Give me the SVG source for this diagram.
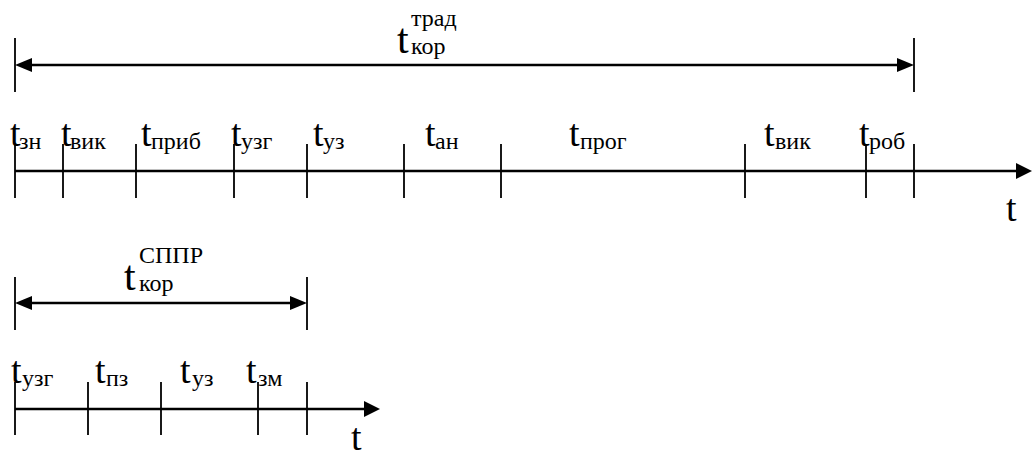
<svg xmlns="http://www.w3.org/2000/svg" width="1032" height="459" viewBox="0 0 1032 459">
  <style>
    .ln { stroke: #000; stroke-width: 2.6; fill: none; }
    .tk { stroke: #000; stroke-width: 1.8; fill: none; }
    .ah { fill: #000; stroke: none; }
    .m, .s, .big { font-family: "Times New Roman", Times, "Liberation Serif", Tinos, "Noto Serif", "DejaVu Serif", serif; fill: #000; }
    .m { font-size: 38px; }
    .s { font-size: 24px; }
    .big { font-size: 42px; }
  </style>

  <!-- traditional correction cycle: dimension line -->
  <g id="dim-trad">
    <line class="tk" x1="15" y1="38" x2="15" y2="92"/>
    <line class="tk" x1="914" y1="38" x2="914" y2="92"/>
    <line class="ln" x1="28" y1="65" x2="900" y2="65"/>
    <polygon class="ah" points="15,65 32,58 32,72"/>
    <polygon class="ah" points="914,65 897,58 897,72"/>
    <text class="big" x="397" y="53">t</text>
    <text class="s" x="411" y="26">трад</text>
    <text class="s" x="411" y="54">кор</text>
  </g>

  <!-- traditional correction cycle: time axis -->
  <g id="axis-trad">
    <line class="ln" x1="15" y1="171" x2="1018" y2="171"/>
    <polygon class="ah" points="1032,171 1016,163 1016,179"/>
    <g class="ticks">
      <line class="tk" x1="15" y1="144" x2="15" y2="198"/>
      <line class="tk" x1="63" y1="144" x2="63" y2="198"/>
      <line class="tk" x1="136" y1="144" x2="136" y2="198"/>
      <line class="tk" x1="234" y1="144" x2="234" y2="198"/>
      <line class="tk" x1="307" y1="144" x2="307" y2="198"/>
      <line class="tk" x1="404" y1="144" x2="404" y2="198"/>
      <line class="tk" x1="501" y1="144" x2="501" y2="198"/>
      <line class="tk" x1="745" y1="144" x2="745" y2="198"/>
      <line class="tk" x1="866" y1="144" x2="866" y2="198"/>
      <line class="tk" x1="914" y1="144" x2="914" y2="198"/>
    </g>
    <text class="m" x="1006" y="221">t</text>
  </g>

  <g id="seg-zn"><text class="m" x="10" y="146">t</text><text class="s" x="19" y="149">зн</text></g>
  <g id="seg-vyk1"><text class="m" x="61" y="146">t</text><text class="s" x="70" y="149">вик</text></g>
  <g id="seg-prib"><text class="m" x="141" y="146">t</text><text class="s" x="151" y="149">приб</text></g>
  <g id="seg-uzg1"><text class="m" x="231" y="146">t</text><text class="s" x="241" y="149">узг</text></g>
  <g id="seg-uz1"><text class="m" x="313" y="146">t</text><text class="s" x="323" y="149">уз</text></g>
  <g id="seg-an"><text class="m" x="425" y="146">t</text><text class="s" x="435" y="149">ан</text></g>
  <g id="seg-prog"><text class="m" x="569" y="146">t</text><text class="s" x="580" y="149">прог</text></g>
  <g id="seg-vyk2"><text class="m" x="764" y="146">t</text><text class="s" x="775" y="149">вик</text></g>
  <g id="seg-rob"><text class="m" x="859" y="146">t</text><text class="s" x="869" y="149">роб</text></g>

  <!-- DSS-assisted correction cycle: dimension line -->
  <g id="dim-sppr">
    <line class="tk" x1="15" y1="277" x2="15" y2="330"/>
    <line class="tk" x1="307" y1="277" x2="307" y2="330"/>
    <line class="ln" x1="28" y1="303" x2="294" y2="303"/>
    <polygon class="ah" points="15,303 32,296 32,310"/>
    <polygon class="ah" points="307,303 290,296 290,310"/>
    <text class="big" x="124" y="290">t</text>
    <text class="s" x="139" y="263">СППР</text>
    <text class="s" x="139" y="291">кор</text>
  </g>

  <!-- DSS-assisted correction cycle: time axis -->
  <g id="axis-sppr">
    <line class="ln" x1="15" y1="409" x2="366" y2="409"/>
    <polygon class="ah" points="380,409 364,401 364,417"/>
    <g class="ticks">
      <line class="tk" x1="15" y1="382" x2="15" y2="435"/>
      <line class="tk" x1="88" y1="382" x2="88" y2="435"/>
      <line class="tk" x1="161" y1="382" x2="161" y2="435"/>
      <line class="tk" x1="258" y1="382" x2="258" y2="435"/>
      <line class="tk" x1="307" y1="382" x2="307" y2="435"/>
    </g>
    <text class="m" x="351" y="450">t</text>
  </g>

  <g id="seg-uzg2"><text class="m" x="11" y="383">t</text><text class="s" x="22" y="386">узг</text></g>
  <g id="seg-pz"><text class="m" x="95" y="383">t</text><text class="s" x="106" y="386">пз</text></g>
  <g id="seg-uz2"><text class="m" x="180" y="383">t</text><text class="s" x="192" y="386">уз</text></g>
  <g id="seg-zm"><text class="m" x="246" y="383">t</text><text class="s" x="258" y="386">зм</text></g>
</svg>
